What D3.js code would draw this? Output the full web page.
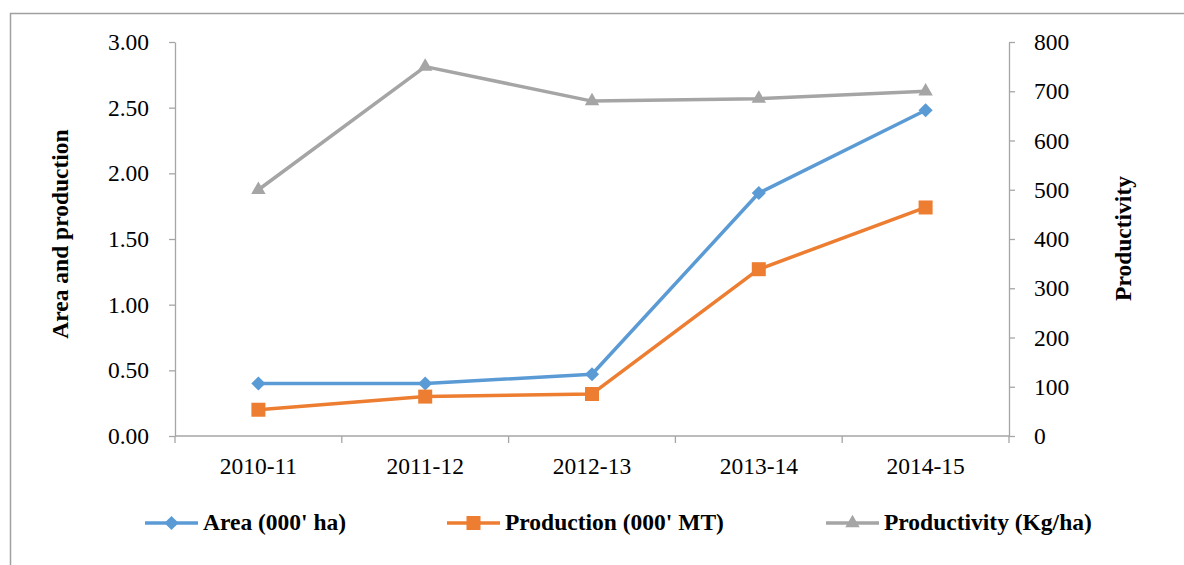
<!DOCTYPE html>
<html>
<head>
<meta charset="utf-8">
<script src="https://cdn.jsdelivr.net/npm/d3@7"></script>
<style>
  html, body { margin: 0; padding: 0; background: #fff; }
  svg { display: block; font-family: "Liberation Serif", "Times New Roman", serif; }
</style>
</head>
<body>
<svg id="chart" width="1184" height="565"></svg>
<script>
// Seasons and series
const seasons = ["2010-11", "2011-12", "2012-13", "2013-14", "2014-15"];
const area = [0.40, 0.40, 0.47, 1.85, 2.48];            // 000' ha
const production = [0.20, 0.30, 0.32, 1.27, 1.74];      // 000' MT
const productivity = [500, 750, 680, 685, 700];         // Kg/ha
const leftTicks = [0, 0.5, 1.0, 1.5, 2.0, 2.5, 3.0];
const rightTicks = [0, 100, 200, 300, 400, 500, 600, 700, 800];

const svg = d3.select("#chart");
const x0 = 175, x1 = 1009, yTop = 42, yBot = 436;
const axisColor = "#a6a6a6";
const fontSize = "23.5px";

// outer frame
svg.append("rect")
  .attr("x", 10.5).attr("y", 13.5)
  .attr("width", 1200).attr("height", 600)
  .attr("fill", "none").attr("stroke", "#a0a0a0").attr("stroke-width", 1.5);

const x = d3.scaleBand().domain(seasons).range([x0, x1]);
const yL = d3.scaleLinear().domain([0, 3]).range([yBot, yTop]);
const yR = d3.scaleLinear().domain([0, 800]).range([yBot, yTop]);

function styleAxis(g) {
  g.selectAll("path").attr("stroke", axisColor).attr("stroke-width", 1.3);
  g.selectAll("line").attr("stroke", axisColor).attr("stroke-width", 1.3);
  g.selectAll("text").attr("fill", "#000").style("font-size", fontSize)
    .style("font-family", "'Liberation Serif', 'Times New Roman', serif");
}

// left axis
svg.append("g").attr("transform", `translate(${x0},0)`)
  .call(d3.axisLeft(yL).tickValues(leftTicks).tickFormat(d3.format(".2f")).tickSizeInner(6).tickSizeOuter(0).tickPadding(20))
  .call(styleAxis);

// right axis
svg.append("g").attr("transform", `translate(${x1},0)`)
  .call(d3.axisRight(yR).tickValues(rightTicks).tickFormat(d3.format("d")).tickSizeInner(6).tickSizeOuter(0).tickPadding(19))
  .call(styleAxis);

// category axis with boundary ticks
const xAxisG = svg.append("g").attr("transform", `translate(0,${yBot})`);
xAxisG.append("line").attr("x1", x0).attr("x2", x1).attr("y1", 0).attr("y2", 0)
  .attr("stroke", axisColor).attr("stroke-width", 1.3);
const bounds = seasons.map(s => x(s)).concat([x1]);
xAxisG.selectAll("line.b").data(bounds).join("line").attr("class", "b")
  .attr("x1", d => d).attr("x2", d => d).attr("y1", 0).attr("y2", 7)
  .attr("stroke", axisColor).attr("stroke-width", 1.3);
xAxisG.selectAll("text").data(seasons).join("text")
  .attr("x", d => x(d) + x.bandwidth() / 2).attr("y", 38)
  .attr("text-anchor", "middle").style("font-size", fontSize).attr("fill", "#000")
  .text(d => d);

// axis titles
svg.append("text")
  .attr("transform", `translate(68,234) rotate(-90)`)
  .attr("text-anchor", "middle").style("font-size", fontSize).style("font-weight", "bold")
  .text("Area and production");
svg.append("text")
  .attr("transform", `translate(1131,238.5) rotate(-90)`)
  .attr("text-anchor", "middle").style("font-size", fontSize).style("font-weight", "bold")
  .text("Productivity");

const cx = d => x(d) + x.bandwidth() / 2;

const series = [
  { name: "Area (000' ha)", values: area, scale: yL, color: "#5b9bd5", symbol: d3.symbolSquare, size: 100, rotate: 45 },
  { name: "Production (000' MT)", values: production, scale: yL, color: "#ed7d31", symbol: d3.symbolSquare, size: 196, rotate: 0 },
  { name: "Productivity (Kg/ha)", values: productivity, scale: yR, color: "#a5a5a5", symbol: d3.symbolTriangle, size: 90, rotate: 0 }
];

// draw productivity first so area/production lie on top
[series[2], series[0], series[1]].forEach(s => {
  const pts = seasons.map((d, i) => [cx(d), s.scale(s.values[i])]);
  svg.append("path").datum(pts)
    .attr("d", d3.line())
    .attr("fill", "none").attr("stroke", s.color).attr("stroke-width", 3.5)
    .attr("stroke-linejoin", "round");
  svg.selectAll(null).data(pts).join("path")
    .attr("transform", p => `translate(${p[0]},${p[1]}) rotate(${s.rotate})`)
    .attr("d", d3.symbol().type(s.symbol).size(s.size))
    .attr("fill", s.color);
});

// legend
const legendItems = [
  { s: series[0], x: 145 },
  { s: series[1], x: 447 },
  { s: series[2], x: 826 }
];
const ly = 523;
legendItems.forEach(it => {
  const g = svg.append("g");
  g.append("line").attr("x1", it.x).attr("x2", it.x + 53).attr("y1", ly).attr("y2", ly)
    .attr("stroke", it.s.color).attr("stroke-width", 3.5);
  g.append("path").attr("transform", `translate(${it.x + 26.5},${ly}) rotate(${it.s.rotate})`)
    .attr("d", d3.symbol().type(it.s.symbol).size(it.s.size)).attr("fill", it.s.color);
  g.append("text").attr("x", it.x + 58).attr("y", ly + 7)
    .style("font-size", fontSize).style("font-weight", "bold").text(it.s.name);
});
</script>
</body>
</html>
